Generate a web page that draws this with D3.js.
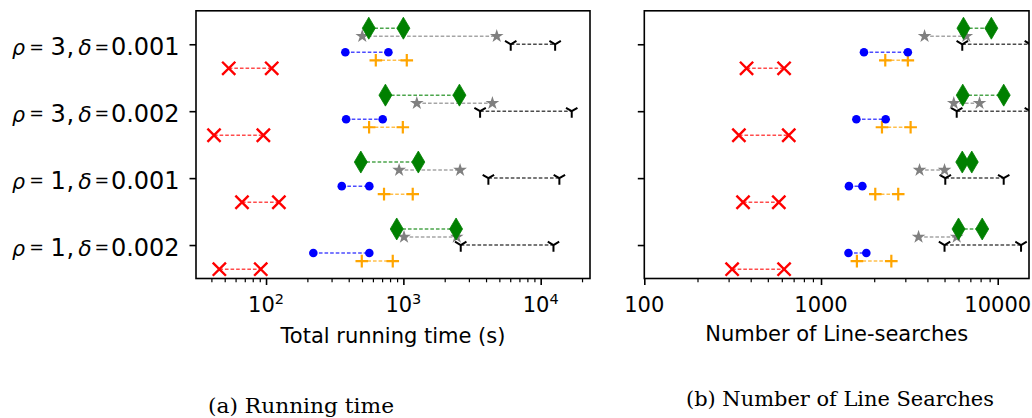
<!DOCTYPE html>
<html><head><meta charset="utf-8">
<script src="https://cdn.jsdelivr.net/npm/d3@7"></script>
<style>body{margin:0;background:#fff}svg{display:block}</style>
</head><body><svg id="c" width="1032" height="418"></svg>
<script>
// ---- data ----
const rhoValues = [3, 3, 1, 1];
const deltaValues = ["0.001", "0.002", "0.001", "0.002"];
const categoryIndex = [3, 2, 1, 0];            // top to bottom

// Total running time (s): [min, max] per category (top to bottom)
const timeGreen  = [[560, 1000], [740, 2560], [490, 1285], [895, 2420]];
const timeGrey   = [[502, 4786], [1253, 4450], [931, 2588], [1011, 2448]];
const timeBlack  = [[6050, 12740], [3620, 16830], [4160, 13680], [2617, 12390]];
const timeBlue   = [[378, 778], [383, 707], [356, 565], [221, 565]];
const timeOrange = [[630, 1059], [563, 991], [723, 1170], [498, 837]];
const timeRed    = [[53.5, 110], [41.8, 95.6], [66.8, 124], [45.7, 91.5]];

// Number of line-searches
const lsGreen  = [[6400, 9200], [6340, 10810], [6300, 7130], [6000, 8170]];
const lsGrey   = [[3855, 6640], [5640, 7890], [3610, 5000], [3565, 5860]];
const lsBlack  = [[6300, 15300], [5860, 15300], [5050, 10810], [5000, 13550]];
const lsBlue   = [[1750, 3100], [1585, 2322], [1439, 1714], [1430, 1805]];
const lsOrange = [[2310, 3100], [2213, 3214], [2028, 2735], [1596, 2500]];
const lsRed    = [[379, 618], [343, 657], [362, 577], [314, 618]];

const leftTickExponents = [2, 3, 4];
const rightTickLabels = ["100", "1000", "10000"];
const xLabels = ["Total running time (s)", "Number of Line-searches"];
const captions = ["(a) Running time", "(b) Number of Line Searches"];

// ---- drawing ----
const svg = d3.select("#c");
const FONT = "DejaVu Sans, sans-serif";

const sym = {
  red:    {color: "#ff0000", off: -0.36, shape: "x"},
  orange: {color: "#ffa500", off: -0.24, shape: "plus"},
  blue:   {color: "#0000ff", off: -0.12, shape: "circle"},
  black:  {color: "#000000", off: 0, shape: "tri"},
  grey:   {color: "#808080", off: 0.12, shape: "star"},
  green:  {color: "#008000", off: 0.24, shape: "diamond"}
};

function starPath(R) {
  const r = R * 0.381966; let p = "";
  for (let i = 0; i < 10; i++) {
    const a = Math.PI * i / 5; const rr = i % 2 ? r : R;
    p += (i ? "L" : "M") + (rr * Math.sin(a)).toFixed(2) + "," + (-rr * Math.cos(a)).toFixed(2);
  }
  return p + "Z";
}

function drawMarker(g, shape, color, cx, cy) {
  const t = `translate(${cx},${cy})`;
  if (shape === "x") {
    const h = 6.6;
    g.append("path").attr("transform", t).attr("d", `M${-h},${-h}L${h},${h}M${-h},${h}L${h},${-h}`)
      .attr("stroke", color).attr("stroke-width", 2.4).attr("fill", "none");
  } else if (shape === "plus") {
    const h = 6.3;
    g.append("path").attr("transform", t).attr("d", `M${-h},0L${h},0M0,${-h}L0,${h}`)
      .attr("stroke", color).attr("stroke-width", 2.2).attr("fill", "none");
  } else if (shape === "circle") {
    g.append("circle").attr("cx", cx).attr("cy", cy).attr("r", 4.3).attr("fill", color);
  } else if (shape === "tri") {
    const r = 6.6;
    g.append("path").attr("transform", t)
      .attr("d", `M0,0L0,${r}M0,0L${-0.866 * r},${-0.5 * r}M0,0L${0.866 * r},${-0.5 * r}`)
      .attr("stroke", color).attr("stroke-width", 2).attr("fill", "none");
  } else if (shape === "star") {
    g.append("path").attr("transform", t).attr("d", starPath(7.2)).attr("fill", color);
  } else if (shape === "diamond") {
    g.append("path").attr("transform", t).attr("d", "M0,-11L6.5,0L0,11L-6.5,0Z")
      .attr("fill", color).attr("stroke", color).attr("stroke-width", 0.8);
  }
}

function panel(opts) {
  const {x0, x1, domain, series, id, leftLabels, tickFmt, xLabel, labelBaseline} = opts;
  const top = 10.8, bottom = 278.5;
  const x = d3.scaleLog().domain(domain).range([x0, x1]);
  const y = d3.scaleLinear().domain([-0.5, 3.5]).range([bottom, top]);
  const g = svg.append("g");

  svg.append("clipPath").attr("id", id).append("rect")
    .attr("x", x0).attr("y", top).attr("width", x1 - x0).attr("height", bottom - top);
  const plot = g.append("g").attr("clip-path", `url(#${id})`);

  series.forEach(s => {
    const st = sym[s.key];
    s.values.forEach((v, i) => {
      const cy = y(categoryIndex[i] + st.off);
      plot.append("line").attr("x1", x(v[0])).attr("x2", x(v[1])).attr("y1", cy).attr("y2", cy)
        .attr("stroke", st.color).attr("stroke-width", 1.5).attr("stroke-dasharray", "3.6,2")
        .attr("opacity", 0.7);
      drawMarker(plot, st.shape, st.color, x(v[0]), cy);
      drawMarker(plot, st.shape, st.color, x(v[1]), cy);
    });
  });

  // x axis ticks
  const [lo, hi] = domain;
  const majors = [], minors = [];
  for (let e = Math.floor(Math.log10(lo)); e <= Math.ceil(Math.log10(hi)); e++) {
    for (let m = 1; m < 10; m++) {
      const v = m * Math.pow(10, e);
      if (v < lo * 0.999 || v > hi * 1.001) continue;
      (m === 1 ? majors : minors).push(v);
    }
  }
  g.append("g").attr("transform", `translate(0,${bottom})`)
    .call(d3.axisBottom(x).tickValues(minors).tickSize(3.8).tickFormat(""))
    .call(a => a.select(".domain").remove())
    .selectAll("line").attr("stroke-width", 1.2);
  g.append("g").attr("transform", `translate(0,${bottom})`)
    .call(d3.axisBottom(x).tickValues(majors).tickSize(6.5).tickFormat(""))
    .call(a => a.select(".domain").remove())
    .selectAll("line").attr("stroke-width", 1.6);

  majors.forEach((v, i) => {
    const t = g.append("text").attr("x", x(v)).attr("y", 312).attr("text-anchor", "middle")
      .attr("font-family", FONT).attr("font-size", 21).attr("fill", "#000");
    tickFmt(t, v, i);
  });

  // y ticks
  g.append("g").attr("transform", `translate(${x0},0)`)
    .call(d3.axisLeft(y).tickValues([0, 1, 2, 3]).tickSize(6.5).tickFormat(""))
    .call(a => a.select(".domain").remove())
    .selectAll("line").attr("stroke-width", 1.6);

  if (leftLabels) {
    categoryIndex.forEach((ci, i) => {
      const base = y(ci) + 10.5;
      const t = g.append("text").attr("y", base).attr("font-family", FONT)
        .attr("font-size", 24).attr("fill", "#000");
      const pieces = [
        {s: "ρ", x: 12, it: true, fs: 20.5},
        {s: "=", x: 29.2, fs: 17.5, dy: -2.2},
        {s: String(rhoValues[i]), x: 50.4},
        {s: ",", x: 66.4},
        {s: "δ", x: 78.3, it: true, fs: 22},
        {s: "=", x: 94.6, fs: 17.5, dy: -2.2},
        {s: deltaValues[i], x: 110.9}
      ];
      pieces.forEach(p => t.append("tspan").attr("x", p.x).attr("y", base + (p.dy || 0))
        .attr("font-size", p.fs || 24)
        .attr("font-style", p.it ? "italic" : "normal").text(p.s));
    });
  }

  // spines
  g.append("rect").attr("x", x0).attr("y", top).attr("width", x1 - x0).attr("height", bottom - top)
    .attr("fill", "none").attr("stroke", "#000").attr("stroke-width", 1.6);

  g.append("text").attr("x", (x0 + x1) / 2).attr("y", labelBaseline).attr("text-anchor", "middle")
    .attr("font-family", FONT).attr("font-size", 21).attr("fill", "#000").text(xLabel);
}

panel({
  x0: 196, x1: 590, domain: [30.9, 22860], id: "clipA", leftLabels: true,
  xLabel: xLabels[0], labelBaseline: 343,
  series: [
    {key: "red", values: timeRed}, {key: "orange", values: timeOrange},
    {key: "blue", values: timeBlue}, {key: "black", values: timeBlack},
    {key: "grey", values: timeGrey}, {key: "green", values: timeGreen}
  ],
  tickFmt: (t, v, i) => {
    t.append("tspan").text("10");
    t.append("tspan").attr("font-size", 14.5).attr("dy", -8.5).text(leftTickExponents[i]);
  }
});

panel({
  x0: 644.3, x1: 1029, domain: [100, 15030], id: "clipB", leftLabels: false,
  xLabel: xLabels[1], labelBaseline: 340.5,
  series: [
    {key: "red", values: lsRed}, {key: "orange", values: lsOrange},
    {key: "blue", values: lsBlue}, {key: "black", values: lsBlack},
    {key: "grey", values: lsGrey}, {key: "green", values: lsGreen}
  ],
  tickFmt: (t, v, i) => t.text(rightTickLabels[i])
});

// captions
svg.append("text").attr("x", 301).attr("y", 413).attr("text-anchor", "middle")
  .attr("font-family", "DejaVu Serif, serif").attr("font-size", 19.5)
  .attr("textLength", 186).attr("lengthAdjust", "spacingAndGlyphs").text(captions[0]);
svg.append("text").attr("x", 840).attr("y", 406).attr("text-anchor", "middle")
  .attr("font-family", "DejaVu Serif, serif").attr("font-size", 19.5)
  .attr("textLength", 308).attr("lengthAdjust", "spacingAndGlyphs").text(captions[1]);
</script></body></html>
